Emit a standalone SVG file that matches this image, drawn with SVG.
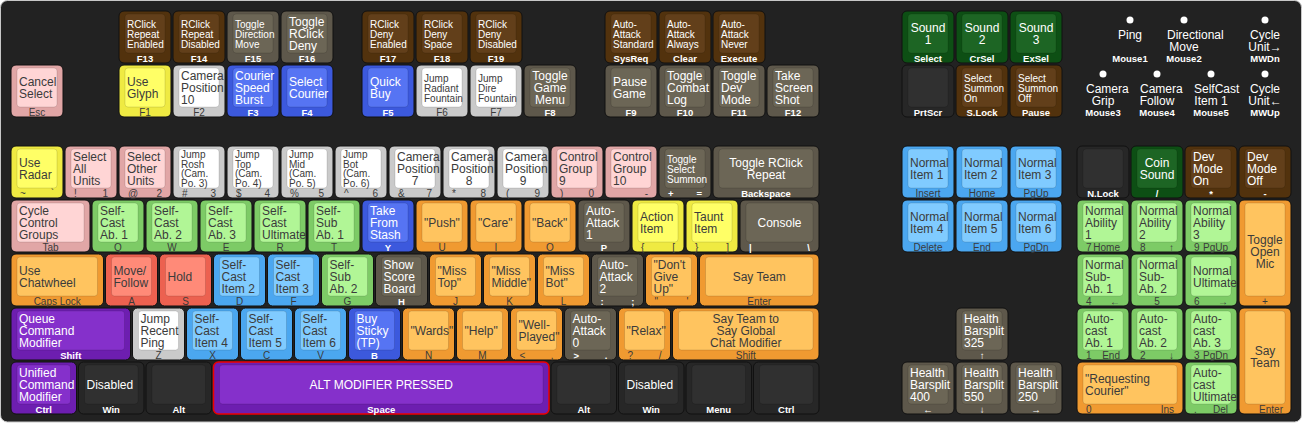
<svg xmlns="http://www.w3.org/2000/svg" width="1303" height="425" viewBox="0 0 1303 425">
<style>
text{font-family:"Liberation Sans",Arial,Helvetica,sans-serif;fill:#3b3b3b}
.m{font-size:12px}
.s{font-size:10px}
.g{font-size:10px}
.c{text-anchor:middle}
.e{text-anchor:end}
.o{stroke:#111;stroke-width:1}
.i{stroke:#000;stroke-opacity:.12;stroke-width:1}
.c-br text,.c-gb text,.c-bl text,.c-pu text,.c-dk text,.c-dg text,.ms text{fill:#fff}
.c-br .g,.c-gb .g,.c-bl .g,.c-pu .g,.c-dk .g,.c-dg .g,.ms .g{font-weight:bold;font-size:9.5px}
.ms circle{fill:#fff}
.c-br .o{fill:#52320d}.c-br .i{fill:#623f1a}
.c-gb .o{fill:#5e584b}.c-gb .i{fill:#6c6656}
.c-pk .o{fill:#e1a6a6}.c-pk .i{fill:#ffd5d5}
.c-ye .o{fill:#efea42}.c-ye .i{fill:#ffff66}
.c-wh .o{fill:#cacaca}.c-wh .i{fill:#ffffff}
.c-bl .o{fill:#3c59dd}.c-bl .i{fill:#5674f3}
.c-lb .o{fill:#4ba7f0}.c-lb .i{fill:#80cbff}
.c-gr .o{fill:#7dcb66}.c-gr .i{fill:#b1f696}
.c-or .o{fill:#f09a31}.c-or .i{fill:#ffc45f}
.c-rd .o{fill:#ec6150}.c-rd .i{fill:#ff8a78}
.c-pu .o{fill:#6d1eb0}.c-pu .i{fill:#8530cb}
.c-dk .o{fill:#272727}.c-dk .i{fill:#303030}
.c-dg .o{fill:#0d4f14}.c-dg .i{fill:#1d6524}
.space .o{stroke:#e00;stroke-width:1.5}
</style>
<rect x="0" y="0" width="1303" height="425" fill="#ffffff"/>
<rect x="0.5" y="0.5" width="1301" height="421.5" rx="7" fill="#222222" stroke="#c8c8c8"/>

<!-- Top function row (F13..) -->
<g id="k-f13" class="c-br"><rect class="o" x="119" y="11" width="52" height="52" rx="5"/><rect class="i" x="125" y="14" width="40" height="39" rx="3"/><text class="s"><tspan x="127" y="27.6">RClick</tspan><tspan x="127" y="37.6">Repeat</tspan><tspan x="127" y="47.6">Enabled</tspan></text><text class="g c" x="145" y="61.5">F13</text></g>
<g id="k-f14" class="c-br"><rect class="o" x="173" y="11" width="52" height="52" rx="5"/><rect class="i" x="179" y="14" width="40" height="39" rx="3"/><text class="s"><tspan x="181" y="27.6">RClick</tspan><tspan x="181" y="37.6">Repeat</tspan><tspan x="181" y="47.6">Disabled</tspan></text><text class="g c" x="199" y="61.5">F14</text></g>
<g id="k-f15" class="c-gb"><rect class="o" x="227" y="11" width="52" height="52" rx="5"/><rect class="i" x="233" y="14" width="40" height="39" rx="3"/><text class="s"><tspan x="235" y="27.6">Toggle</tspan><tspan x="235" y="37.6">Direction</tspan><tspan x="235" y="47.6">Move</tspan></text><text class="g c" x="253" y="61.5">F15</text></g>
<g id="k-f16" class="c-gb"><rect class="o" x="281" y="11" width="52" height="52" rx="5"/><rect class="i" x="287" y="14" width="40" height="39" rx="3"/><text class="m"><tspan x="289" y="26.3">Toggle</tspan><tspan x="289" y="38.3">RClick</tspan><tspan x="289" y="50.3">Deny</tspan></text><text class="g c" x="307" y="61.5">F16</text></g>
<g id="k-f17" class="c-br"><rect class="o" x="362" y="11" width="52" height="52" rx="5"/><rect class="i" x="368" y="14" width="40" height="39" rx="3"/><text class="s"><tspan x="370" y="27.6">RClick</tspan><tspan x="370" y="37.6">Deny</tspan><tspan x="370" y="47.6">Enabled</tspan></text><text class="g c" x="388" y="61.5">F17</text></g>
<g id="k-f18" class="c-br"><rect class="o" x="416" y="11" width="52" height="52" rx="5"/><rect class="i" x="422" y="14" width="40" height="39" rx="3"/><text class="s"><tspan x="424" y="27.6">RClick</tspan><tspan x="424" y="37.6">Deny</tspan><tspan x="424" y="47.6">Space</tspan></text><text class="g c" x="442" y="61.5">F18</text></g>
<g id="k-f19" class="c-br"><rect class="o" x="470" y="11" width="52" height="52" rx="5"/><rect class="i" x="476" y="14" width="40" height="39" rx="3"/><text class="s"><tspan x="478" y="27.6">RClick</tspan><tspan x="478" y="37.6">Deny</tspan><tspan x="478" y="47.6">Disabled</tspan></text><text class="g c" x="496" y="61.5">F19</text></g>
<g id="k-sysreq" class="c-br"><rect class="o" x="605" y="11" width="52" height="52" rx="5"/><rect class="i" x="611" y="14" width="40" height="39" rx="3"/><text class="s"><tspan x="613" y="27.6">Auto-</tspan><tspan x="613" y="37.6">Attack</tspan><tspan x="613" y="47.6">Standard</tspan></text><text class="g c" x="631" y="61.5">SysReq</text></g>
<g id="k-clear" class="c-br"><rect class="o" x="659" y="11" width="52" height="52" rx="5"/><rect class="i" x="665" y="14" width="40" height="39" rx="3"/><text class="s"><tspan x="667" y="27.6">Auto-</tspan><tspan x="667" y="37.6">Attack</tspan><tspan x="667" y="47.6">Always</tspan></text><text class="g c" x="685" y="61.5">Clear</text></g>
<g id="k-execute" class="c-br"><rect class="o" x="713" y="11" width="52" height="52" rx="5"/><rect class="i" x="719" y="14" width="40" height="39" rx="3"/><text class="s"><tspan x="721" y="27.6">Auto-</tspan><tspan x="721" y="37.6">Attack</tspan><tspan x="721" y="47.6">Never</tspan></text><text class="g c" x="739" y="61.5">Execute</text></g>
<g id="k-select" class="c-dg"><rect class="o" x="902" y="11" width="52" height="52" rx="5"/><rect class="i" x="908" y="14" width="40" height="39" rx="3"/><text class="m c"><tspan x="928" y="32.3">Sound</tspan><tspan x="928" y="44.3">1</tspan></text><text class="g c" x="928" y="61.5">Select</text></g>
<g id="k-crsel" class="c-dg"><rect class="o" x="956" y="11" width="52" height="52" rx="5"/><rect class="i" x="962" y="14" width="40" height="39" rx="3"/><text class="m c"><tspan x="982" y="32.3">Sound</tspan><tspan x="982" y="44.3">2</tspan></text><text class="g c" x="982" y="61.5">CrSel</text></g>
<g id="k-exsel" class="c-dg"><rect class="o" x="1010" y="11" width="52" height="52" rx="5"/><rect class="i" x="1016" y="14" width="40" height="39" rx="3"/><text class="m c"><tspan x="1036" y="32.3">Sound</tspan><tspan x="1036" y="44.3">3</tspan></text><text class="g c" x="1036" y="61.5">ExSel</text></g>

<!-- F row -->
<g id="k-esc" class="c-pk"><rect class="o" x="11" y="65" width="52" height="52" rx="5"/><rect class="i" x="17" y="68" width="40" height="39" rx="3"/><text class="m"><tspan x="19" y="86.3">Cancel</tspan><tspan x="19" y="98.3">Select</tspan></text><text class="g c" x="37" y="115.5">Esc</text></g>
<g id="k-f1" class="c-ye"><rect class="o" x="119" y="65" width="52" height="52" rx="5"/><rect class="i" x="125" y="68" width="40" height="39" rx="3"/><text class="m"><tspan x="127" y="86.3">Use</tspan><tspan x="127" y="98.3">Glyph</tspan></text><text class="g c" x="145" y="115.5">F1</text></g>
<g id="k-f2" class="c-wh"><rect class="o" x="173" y="65" width="52" height="52" rx="5"/><rect class="i" x="179" y="68" width="40" height="39" rx="3"/><text class="m"><tspan x="181" y="80.3">Camera</tspan><tspan x="181" y="92.3">Position</tspan><tspan x="181" y="104.3">10</tspan></text><text class="g c" x="199" y="115.5">F2</text></g>
<g id="k-f3" class="c-bl"><rect class="o" x="227" y="65" width="52" height="52" rx="5"/><rect class="i" x="233" y="68" width="40" height="39" rx="3"/><text class="m"><tspan x="235" y="80.3">Courier</tspan><tspan x="235" y="92.3">Speed</tspan><tspan x="235" y="104.3">Burst</tspan></text><text class="g c" x="253" y="115.5">F3</text></g>
<g id="k-f4" class="c-bl"><rect class="o" x="281" y="65" width="52" height="52" rx="5"/><rect class="i" x="287" y="68" width="40" height="39" rx="3"/><text class="m"><tspan x="289" y="86.3">Select</tspan><tspan x="289" y="98.3">Courier</tspan></text><text class="g c" x="307" y="115.5">F4</text></g>
<g id="k-f5" class="c-bl"><rect class="o" x="362" y="65" width="52" height="52" rx="5"/><rect class="i" x="368" y="68" width="40" height="39" rx="3"/><text class="m"><tspan x="370" y="86.3">Quick</tspan><tspan x="370" y="98.3">Buy</tspan></text><text class="g c" x="388" y="115.5">F5</text></g>
<g id="k-f6" class="c-wh"><rect class="o" x="416" y="65" width="52" height="52" rx="5"/><rect class="i" x="422" y="68" width="40" height="39" rx="3"/><text class="s"><tspan x="424" y="81.6">Jump</tspan><tspan x="424" y="91.6">Radiant</tspan><tspan x="424" y="101.6">Fountain</tspan></text><text class="g c" x="442" y="115.5">F6</text></g>
<g id="k-f7" class="c-wh"><rect class="o" x="470" y="65" width="52" height="52" rx="5"/><rect class="i" x="476" y="68" width="40" height="39" rx="3"/><text class="s"><tspan x="478" y="81.6">Jump</tspan><tspan x="478" y="91.6">Dire</tspan><tspan x="478" y="101.6">Fountain</tspan></text><text class="g c" x="496" y="115.5">F7</text></g>
<g id="k-f8" class="c-gb"><rect class="o" x="524" y="65" width="52" height="52" rx="5"/><rect class="i" x="530" y="68" width="40" height="39" rx="3"/><text class="m c"><tspan x="550" y="80.3">Toggle</tspan><tspan x="550" y="92.3">Game</tspan><tspan x="550" y="104.3">Menu</tspan></text><text class="g c" x="550" y="115.5">F8</text></g>
<g id="k-f9" class="c-gb"><rect class="o" x="605" y="65" width="52" height="52" rx="5"/><rect class="i" x="611" y="68" width="40" height="39" rx="3"/><text class="m"><tspan x="613" y="86.3">Pause</tspan><tspan x="613" y="98.3">Game</tspan></text><text class="g c" x="631" y="115.5">F9</text></g>
<g id="k-f10" class="c-gb"><rect class="o" x="659" y="65" width="52" height="52" rx="5"/><rect class="i" x="665" y="68" width="40" height="39" rx="3"/><text class="m"><tspan x="667" y="80.3">Toggle</tspan><tspan x="667" y="92.3">Combat</tspan><tspan x="667" y="104.3">Log</tspan></text><text class="g c" x="685" y="115.5">F10</text></g>
<g id="k-f11" class="c-gb"><rect class="o" x="713" y="65" width="52" height="52" rx="5"/><rect class="i" x="719" y="68" width="40" height="39" rx="3"/><text class="m"><tspan x="721" y="80.3">Toggle</tspan><tspan x="721" y="92.3">Dev</tspan><tspan x="721" y="104.3">Mode</tspan></text><text class="g c" x="739" y="115.5">F11</text></g>
<g id="k-f12" class="c-gb"><rect class="o" x="767" y="65" width="52" height="52" rx="5"/><rect class="i" x="773" y="68" width="40" height="39" rx="3"/><text class="m"><tspan x="775" y="80.3">Take</tspan><tspan x="775" y="92.3">Screen</tspan><tspan x="775" y="104.3">Shot</tspan></text><text class="g c" x="793" y="115.5">F12</text></g>
<g id="k-prtscr" class="c-dk"><rect class="o" x="902" y="65" width="52" height="52" rx="5"/><rect class="i" x="908" y="68" width="40" height="39" rx="3"/><text class="g c" x="928" y="115.5">PrtScr</text></g>
<g id="k-slock" class="c-br"><rect class="o" x="956" y="65" width="52" height="52" rx="5"/><rect class="i" x="962" y="68" width="40" height="39" rx="3"/><text class="s"><tspan x="964" y="81.6">Select</tspan><tspan x="964" y="91.6">Summon</tspan><tspan x="964" y="101.6">On</tspan></text><text class="g c" x="982" y="115.5">S.Lock</text></g>
<g id="k-pause" class="c-br"><rect class="o" x="1010" y="65" width="52" height="52" rx="5"/><rect class="i" x="1016" y="68" width="40" height="39" rx="3"/><text class="s"><tspan x="1018" y="81.6">Select</tspan><tspan x="1018" y="91.6">Summon</tspan><tspan x="1018" y="101.6">Off</tspan></text><text class="g c" x="1036" y="115.5">Pause</text></g>

<!-- Mouse -->
<g id="mouse" class="ms">
<g id="m-ping"><circle cx="1130" cy="20" r="3.5"/><text class="m c" x="1130" y="38.5">Ping</text><text class="g c" x="1130" y="62.3">Mouse1</text></g>
<g id="m-dirmove"><circle cx="1184" cy="20" r="3.5"/><text class="m"><tspan x="1167" y="38.5">Directional</tspan></text><text class="m c" x="1184" y="50.5">Move</text><text class="g c" x="1184" y="62.3">Mouse2</text></g>
<g id="m-cycledn"><circle cx="1265" cy="20" r="3.5"/><text class="m c"><tspan x="1265" y="38.5">Cycle</tspan><tspan x="1265" y="50.5">Unit→</tspan></text><text class="g c" x="1265" y="62.3">MWDn</text></g>
<g id="m-grip"><circle cx="1103" cy="74" r="3.5"/><text class="m" x="1086" y="92.5">Camera</text><text class="m c" x="1103" y="104.5">Grip</text><text class="g c" x="1103" y="116.3">Mouse3</text></g>
<g id="m-follow"><circle cx="1157" cy="74" r="3.5"/><text class="m" x="1140" y="92.5">Camera</text><text class="m c" x="1157" y="104.5">Follow</text><text class="g c" x="1157" y="116.3">Mouse4</text></g>
<g id="m-selfcast"><circle cx="1211" cy="74" r="3.5"/><text class="m" x="1194" y="92.5">SelfCast</text><text class="m c" x="1211" y="104.5">Item 1</text><text class="g c" x="1211" y="116.3">Mouse5</text></g>
<g id="m-cycleup"><circle cx="1265" cy="74" r="3.5"/><text class="m c"><tspan x="1265" y="92.5">Cycle</tspan><tspan x="1265" y="104.5">Unit←</tspan></text><text class="g c" x="1265" y="116.3">MWUp</text></g>
</g>

<!-- Number row -->
<g id="k-grave" class="c-ye"><rect class="o" x="11" y="146" width="52" height="52" rx="5"/><rect class="i" x="17" y="149" width="40" height="39" rx="3"/><text class="m"><tspan x="19" y="167.3">Use</tspan><tspan x="19" y="179.3">Radar</tspan></text><text class="g" x="20" y="196.5">~</text><text class="g e" x="54" y="196.5">`</text></g>
<g id="k-1" class="c-pk"><rect class="o" x="65" y="146" width="52" height="52" rx="5"/><rect class="i" x="71" y="149" width="40" height="39" rx="3"/><text class="m"><tspan x="73" y="161.3">Select</tspan><tspan x="73" y="173.3">All</tspan><tspan x="73" y="185.3">Units</tspan></text><text class="g" x="74" y="196.5">!</text><text class="g e" x="108" y="196.5">1</text></g>
<g id="k-2" class="c-pk"><rect class="o" x="119" y="146" width="52" height="52" rx="5"/><rect class="i" x="125" y="149" width="40" height="39" rx="3"/><text class="m"><tspan x="127" y="161.3">Select</tspan><tspan x="127" y="173.3">Other</tspan><tspan x="127" y="185.3">Units</tspan></text><text class="g" x="128" y="196.5">@</text><text class="g e" x="162" y="196.5">2</text></g>
<g id="k-3" class="c-wh"><rect class="o" x="173" y="146" width="52" height="52" rx="5"/><rect class="i" x="179" y="149" width="40" height="39" rx="3"/><text class="s"><tspan x="181" y="158">Jump</tspan><tspan x="181" y="167.7">Rosh</tspan><tspan x="181" y="177.4">(Cam.</tspan><tspan x="181" y="187.1">Po. 3)</tspan></text><text class="g" x="182" y="197">#</text><text class="g e" x="216" y="197">3</text></g>
<g id="k-4" class="c-wh"><rect class="o" x="227" y="146" width="52" height="52" rx="5"/><rect class="i" x="233" y="149" width="40" height="39" rx="3"/><text class="s"><tspan x="235" y="158">Jump</tspan><tspan x="235" y="167.7">Top</tspan><tspan x="235" y="177.4">(Cam.</tspan><tspan x="235" y="187.1">Po. 4)</tspan></text><text class="g" x="236" y="197">$</text><text class="g e" x="270" y="197">4</text></g>
<g id="k-5" class="c-wh"><rect class="o" x="281" y="146" width="52" height="52" rx="5"/><rect class="i" x="287" y="149" width="40" height="39" rx="3"/><text class="s"><tspan x="289" y="158">Jump</tspan><tspan x="289" y="167.7">Mid</tspan><tspan x="289" y="177.4">(Cam.</tspan><tspan x="289" y="187.1">Po. 5)</tspan></text><text class="g" x="290" y="197">%</text><text class="g e" x="324" y="197">5</text></g>
<g id="k-6" class="c-wh"><rect class="o" x="335" y="146" width="52" height="52" rx="5"/><rect class="i" x="341" y="149" width="40" height="39" rx="3"/><text class="s"><tspan x="343" y="158">Jump</tspan><tspan x="343" y="167.7">Bot</tspan><tspan x="343" y="177.4">(Cam.</tspan><tspan x="343" y="187.1">Po. 6)</tspan></text><text class="g" x="344" y="197">^</text><text class="g e" x="378" y="197">6</text></g>
<g id="k-7" class="c-wh"><rect class="o" x="389" y="146" width="52" height="52" rx="5"/><rect class="i" x="395" y="149" width="40" height="39" rx="3"/><text class="m"><tspan x="397" y="161.3">Camera</tspan><tspan x="397" y="173.3">Position</tspan></text><text class="m c" x="415" y="185.3">7</text><text class="g" x="398" y="196.5">&amp;</text><text class="g e" x="432" y="196.5">7</text></g>
<g id="k-8" class="c-wh"><rect class="o" x="443" y="146" width="52" height="52" rx="5"/><rect class="i" x="449" y="149" width="40" height="39" rx="3"/><text class="m"><tspan x="451" y="161.3">Camera</tspan><tspan x="451" y="173.3">Position</tspan></text><text class="m c" x="469" y="185.3">8</text><text class="g" x="452" y="196.5">*</text><text class="g e" x="486" y="196.5">8</text></g>
<g id="k-9" class="c-wh"><rect class="o" x="497" y="146" width="52" height="52" rx="5"/><rect class="i" x="503" y="149" width="40" height="39" rx="3"/><text class="m"><tspan x="505" y="161.3">Camera</tspan><tspan x="505" y="173.3">Position</tspan></text><text class="m c" x="523" y="185.3">9</text><text class="g" x="506" y="196.5">(</text><text class="g e" x="540" y="196.5">9</text></g>
<g id="k-0" class="c-pk"><rect class="o" x="551" y="146" width="52" height="52" rx="5"/><rect class="i" x="557" y="149" width="40" height="39" rx="3"/><text class="m"><tspan x="559" y="161.3">Control</tspan><tspan x="559" y="173.3">Group</tspan><tspan x="559" y="185.3">9</tspan></text><text class="g" x="560" y="196.5">)</text><text class="g e" x="594" y="196.5">0</text></g>
<g id="k-minus" class="c-pk"><rect class="o" x="605" y="146" width="52" height="52" rx="5"/><rect class="i" x="611" y="149" width="40" height="39" rx="3"/><text class="m"><tspan x="613" y="161.3">Control</tspan><tspan x="613" y="173.3">Group</tspan><tspan x="613" y="185.3">10</tspan></text><text class="g e" x="648" y="196.5">-</text></g>
<g id="k-equal" class="c-gb"><rect class="o" x="659" y="146" width="52" height="52" rx="5"/><rect class="i" x="665" y="149" width="40" height="39" rx="3"/><text class="s"><tspan x="667" y="162.6">Toggle</tspan><tspan x="667" y="172.6">Select</tspan><tspan x="667" y="182.6">Summon</tspan></text><text class="g" x="668" y="196.5">+</text><text class="g e" x="702" y="196.5">=</text></g>
<g id="k-backspace" class="c-gb"><rect class="o" x="713" y="146" width="106" height="52" rx="5"/><rect class="i" x="719" y="149" width="94" height="39" rx="3"/><text class="m c"><tspan x="766" y="167.3">Toggle RClick</tspan><tspan x="766" y="179.3">Repeat</tspan></text><text class="g c" x="766" y="196.5">Backspace</text></g>
<g id="k-insert" class="c-lb"><rect class="o" x="902" y="146" width="52" height="52" rx="5"/><rect class="i" x="908" y="149" width="40" height="39" rx="3"/><text class="m"><tspan x="910" y="167.3">Normal</tspan><tspan x="910" y="179.3">Item 1</tspan></text><text class="g c" x="928" y="196.5">Insert</text></g>
<g id="k-home" class="c-lb"><rect class="o" x="956" y="146" width="52" height="52" rx="5"/><rect class="i" x="962" y="149" width="40" height="39" rx="3"/><text class="m"><tspan x="964" y="167.3">Normal</tspan><tspan x="964" y="179.3">Item 2</tspan></text><text class="g c" x="982" y="196.5">Home</text></g>
<g id="k-pgup" class="c-lb"><rect class="o" x="1010" y="146" width="52" height="52" rx="5"/><rect class="i" x="1016" y="149" width="40" height="39" rx="3"/><text class="m"><tspan x="1018" y="167.3">Normal</tspan><tspan x="1018" y="179.3">Item 3</tspan></text><text class="g c" x="1036" y="196.5">PgUp</text></g>
<g id="k-numlock" class="c-dk"><rect class="o" x="1077" y="146" width="52" height="52" rx="5"/><rect class="i" x="1083" y="149" width="40" height="39" rx="3"/><text class="g c" x="1103" y="196.5">N.Lock</text></g>
<g id="k-numdiv" class="c-dg"><rect class="o" x="1131" y="146" width="52" height="52" rx="5"/><rect class="i" x="1137" y="149" width="40" height="39" rx="3"/><text class="m c"><tspan x="1157" y="167.3">Coin</tspan><tspan x="1157" y="179.3">Sound</tspan></text><text class="g c" x="1157" y="196.5">/</text></g>
<g id="k-nummul" class="c-br"><rect class="o" x="1185" y="146" width="52" height="52" rx="5"/><rect class="i" x="1191" y="149" width="40" height="39" rx="3"/><text class="m"><tspan x="1193" y="161.3">Dev</tspan><tspan x="1193" y="173.3">Mode</tspan><tspan x="1193" y="185.3">On</tspan></text><text class="g c" x="1211" y="196.5">*</text></g>
<g id="k-numsub" class="c-br"><rect class="o" x="1239" y="146" width="52" height="52" rx="5"/><rect class="i" x="1245" y="149" width="40" height="39" rx="3"/><text class="m"><tspan x="1247" y="161.3">Dev</tspan><tspan x="1247" y="173.3">Mode</tspan><tspan x="1247" y="185.3">Off</tspan></text><text class="g c" x="1265" y="196.5">-</text></g>

<!-- Tab row -->
<g id="k-tab" class="c-pk"><rect class="o" x="11" y="200" width="79" height="52" rx="5"/><rect class="i" x="17" y="203" width="67" height="39" rx="3"/><text class="m"><tspan x="19" y="215.3">Cycle</tspan><tspan x="19" y="227.3">Control</tspan><tspan x="19" y="239.3">Groups</tspan></text><text class="g c" x="50.5" y="250.5">Tab</text></g>
<g id="k-q" class="c-gr"><rect class="o" x="92" y="200" width="52" height="52" rx="5"/><rect class="i" x="98" y="203" width="40" height="39" rx="3"/><text class="m"><tspan x="100" y="215.3">Self-</tspan><tspan x="100" y="227.3">Cast</tspan><tspan x="100" y="239.3">Ab. 1</tspan></text><text class="g c" x="118" y="250.5">Q</text></g>
<g id="k-w" class="c-gr"><rect class="o" x="146" y="200" width="52" height="52" rx="5"/><rect class="i" x="152" y="203" width="40" height="39" rx="3"/><text class="m"><tspan x="154" y="215.3">Self-</tspan><tspan x="154" y="227.3">Cast</tspan><tspan x="154" y="239.3">Ab. 2</tspan></text><text class="g c" x="172" y="250.5">W</text></g>
<g id="k-e" class="c-gr"><rect class="o" x="200" y="200" width="52" height="52" rx="5"/><rect class="i" x="206" y="203" width="40" height="39" rx="3"/><text class="m"><tspan x="208" y="215.3">Self-</tspan><tspan x="208" y="227.3">Cast</tspan><tspan x="208" y="239.3">Ab. 3</tspan></text><text class="g c" x="226" y="250.5">E</text></g>
<g id="k-r" class="c-gr"><rect class="o" x="254" y="200" width="52" height="52" rx="5"/><rect class="i" x="260" y="203" width="40" height="39" rx="3"/><text class="m"><tspan x="262" y="215.3">Self-</tspan><tspan x="262" y="227.3">Cast</tspan><tspan x="262" y="239.3">Ultimate</tspan></text><text class="g c" x="280" y="250.5">R</text></g>
<g id="k-t" class="c-gr"><rect class="o" x="308" y="200" width="52" height="52" rx="5"/><rect class="i" x="314" y="203" width="40" height="39" rx="3"/><text class="m"><tspan x="316" y="215.3">Self-</tspan><tspan x="316" y="227.3">Sub</tspan><tspan x="316" y="239.3">Ab. 1</tspan></text><text class="g c" x="334" y="250.5">T</text></g>
<g id="k-y" class="c-bl"><rect class="o" x="362" y="200" width="52" height="52" rx="5"/><rect class="i" x="368" y="203" width="40" height="39" rx="3"/><text class="m"><tspan x="370" y="215.3">Take</tspan><tspan x="370" y="227.3">From</tspan><tspan x="370" y="239.3">Stash</tspan></text><text class="g c" x="388" y="250.5">Y</text></g>
<g id="k-u" class="c-or"><rect class="o" x="416" y="200" width="52" height="52" rx="5"/><rect class="i" x="422" y="203" width="40" height="39" rx="3"/><text class="m" x="424" y="227.3">"Push"</text><text class="g c" x="442" y="250.5">U</text></g>
<g id="k-i" class="c-or"><rect class="o" x="470" y="200" width="52" height="52" rx="5"/><rect class="i" x="476" y="203" width="40" height="39" rx="3"/><text class="m" x="478" y="227.3">"Care"</text><text class="g c" x="496" y="250.5">I</text></g>
<g id="k-o" class="c-or"><rect class="o" x="524" y="200" width="52" height="52" rx="5"/><rect class="i" x="530" y="203" width="40" height="39" rx="3"/><text class="m" x="532" y="227.3">"Back"</text><text class="g c" x="550" y="250.5">O</text></g>
<g id="k-p" class="c-gb"><rect class="o" x="578" y="200" width="52" height="52" rx="5"/><rect class="i" x="584" y="203" width="40" height="39" rx="3"/><text class="m"><tspan x="586" y="215.3">Auto-</tspan><tspan x="586" y="227.3">Attack</tspan><tspan x="586" y="239.3">1</tspan></text><text class="g c" x="604" y="250.5">P</text></g>
<g id="k-lbracket" class="c-ye"><rect class="o" x="632" y="200" width="52" height="52" rx="5"/><rect class="i" x="638" y="203" width="40" height="39" rx="3"/><text class="m"><tspan x="640" y="221.3">Action</tspan><tspan x="640" y="233.3">Item</tspan></text><text class="g" x="641" y="250.5">{</text><text class="g e" x="675" y="250.5">[</text></g>
<g id="k-rbracket" class="c-ye"><rect class="o" x="686" y="200" width="52" height="52" rx="5"/><rect class="i" x="692" y="203" width="40" height="39" rx="3"/><text class="m"><tspan x="694" y="221.3">Taunt</tspan><tspan x="694" y="233.3">Item</tspan></text><text class="g" x="695" y="250.5">}</text><text class="g e" x="729" y="250.5">]</text></g>
<g id="k-backslash" class="c-gb"><rect class="o" x="740" y="200" width="79" height="52" rx="5"/><rect class="i" x="746" y="203" width="67" height="39" rx="3"/><text class="m c" x="779.5" y="227.3">Console</text><text class="g" x="749" y="250.5">|</text><text class="g e" x="810" y="250.5">\</text></g>
<g id="k-delete" class="c-lb"><rect class="o" x="902" y="200" width="52" height="52" rx="5"/><rect class="i" x="908" y="203" width="40" height="39" rx="3"/><text class="m"><tspan x="910" y="221.3">Normal</tspan><tspan x="910" y="233.3">Item 4</tspan></text><text class="g c" x="928" y="250.5">Delete</text></g>
<g id="k-end" class="c-lb"><rect class="o" x="956" y="200" width="52" height="52" rx="5"/><rect class="i" x="962" y="203" width="40" height="39" rx="3"/><text class="m"><tspan x="964" y="221.3">Normal</tspan><tspan x="964" y="233.3">Item 5</tspan></text><text class="g c" x="982" y="250.5">End</text></g>
<g id="k-pgdn" class="c-lb"><rect class="o" x="1010" y="200" width="52" height="52" rx="5"/><rect class="i" x="1016" y="203" width="40" height="39" rx="3"/><text class="m"><tspan x="1018" y="221.3">Normal</tspan><tspan x="1018" y="233.3">Item 6</tspan></text><text class="g c" x="1036" y="250.5">PgDn</text></g>
<g id="k-num7" class="c-gr"><rect class="o" x="1077" y="200" width="52" height="52" rx="5"/><rect class="i" x="1083" y="203" width="40" height="39" rx="3"/><text class="m"><tspan x="1085" y="215.3">Normal</tspan><tspan x="1085" y="227.3">Ability</tspan><tspan x="1085" y="239.3">1</tspan></text><text class="g" x="1086" y="250.5">7</text><text class="g e" x="1120" y="250.5">Home</text></g>
<g id="k-num8" class="c-gr"><rect class="o" x="1131" y="200" width="52" height="52" rx="5"/><rect class="i" x="1137" y="203" width="40" height="39" rx="3"/><text class="m"><tspan x="1139" y="215.3">Normal</tspan><tspan x="1139" y="227.3">Ability</tspan><tspan x="1139" y="239.3">2</tspan></text><text class="g" x="1140" y="250.5">8</text><text class="g e" x="1174" y="250.5">↑</text></g>
<g id="k-num9" class="c-gr"><rect class="o" x="1185" y="200" width="52" height="52" rx="5"/><rect class="i" x="1191" y="203" width="40" height="39" rx="3"/><text class="m"><tspan x="1193" y="215.3">Normal</tspan><tspan x="1193" y="227.3">Ability</tspan><tspan x="1193" y="239.3">3</tspan></text><text class="g" x="1194" y="250.5">9</text><text class="g e" x="1228" y="250.5">PgUp</text></g>
<g id="k-numadd" class="c-or"><rect class="o" x="1239" y="200" width="52" height="106" rx="5"/><rect class="i" x="1245" y="203" width="40" height="93" rx="3"/><text class="m c"><tspan x="1265" y="243.5">Toggle</tspan><tspan x="1265" y="255.5">Open</tspan><tspan x="1265" y="267.5">Mic</tspan></text><text class="g c" x="1265" y="304.5">+</text></g>

<!-- Caps row -->
<g id="k-caps" class="c-or"><rect class="o" x="11" y="254" width="92.5" height="52" rx="5"/><rect class="i" x="17" y="257" width="80.5" height="39" rx="3"/><text class="m"><tspan x="19" y="275.3">Use</tspan><tspan x="19" y="287.3">Chatwheel</tspan></text><text class="g c" x="57.25" y="304.5">Caps Lock</text></g>
<g id="k-a" class="c-rd"><rect class="o" x="105.5" y="254" width="52" height="52" rx="5"/><rect class="i" x="111.5" y="257" width="40" height="39" rx="3"/><text class="m"><tspan x="113.5" y="275.3">Move/</tspan><tspan x="113.5" y="287.3">Follow</tspan></text><text class="g c" x="131.5" y="304.5">A</text></g>
<g id="k-s" class="c-rd"><rect class="o" x="159.5" y="254" width="52" height="52" rx="5"/><rect class="i" x="165.5" y="257" width="40" height="39" rx="3"/><text class="m" x="167.5" y="281.3">Hold</text><text class="g c" x="185.5" y="304.5">S</text></g>
<g id="k-d" class="c-lb"><rect class="o" x="213.5" y="254" width="52" height="52" rx="5"/><rect class="i" x="219.5" y="257" width="40" height="39" rx="3"/><text class="m"><tspan x="221.5" y="269.3">Self-</tspan><tspan x="221.5" y="281.3">Cast</tspan><tspan x="221.5" y="293.3">Item 2</tspan></text><text class="g c" x="239.5" y="304.5">D</text></g>
<g id="k-f" class="c-lb"><rect class="o" x="267.5" y="254" width="52" height="52" rx="5"/><rect class="i" x="273.5" y="257" width="40" height="39" rx="3"/><text class="m"><tspan x="275.5" y="269.3">Self-</tspan><tspan x="275.5" y="281.3">Cast</tspan><tspan x="275.5" y="293.3">Item 3</tspan></text><text class="g c" x="293.5" y="304.5">F</text></g>
<g id="k-g" class="c-gr"><rect class="o" x="321.5" y="254" width="52" height="52" rx="5"/><rect class="i" x="327.5" y="257" width="40" height="39" rx="3"/><text class="m"><tspan x="329.5" y="269.3">Self-</tspan><tspan x="329.5" y="281.3">Sub</tspan><tspan x="329.5" y="293.3">Ab. 2</tspan></text><text class="g c" x="347.5" y="304.5">G</text></g>
<g id="k-h" class="c-gb"><rect class="o" x="375.5" y="254" width="52" height="52" rx="5"/><rect class="i" x="381.5" y="257" width="40" height="39" rx="3"/><text class="m"><tspan x="383.5" y="269.3">Show</tspan><tspan x="383.5" y="281.3">Score</tspan><tspan x="383.5" y="293.3">Board</tspan></text><text class="g c" x="401.5" y="304.5">H</text></g>
<g id="k-j" class="c-or"><rect class="o" x="429.5" y="254" width="52" height="52" rx="5"/><rect class="i" x="435.5" y="257" width="40" height="39" rx="3"/><text class="m"><tspan x="437.5" y="275.3">"Miss</tspan><tspan x="437.5" y="287.3">Top"</tspan></text><text class="g c" x="455.5" y="304.5">J</text></g>
<g id="k-k" class="c-or"><rect class="o" x="483.5" y="254" width="52" height="52" rx="5"/><rect class="i" x="489.5" y="257" width="40" height="39" rx="3"/><text class="m"><tspan x="491.5" y="275.3">"Miss</tspan><tspan x="491.5" y="287.3">Middle"</tspan></text><text class="g c" x="509.5" y="304.5">K</text></g>
<g id="k-l" class="c-or"><rect class="o" x="537.5" y="254" width="52" height="52" rx="5"/><rect class="i" x="543.5" y="257" width="40" height="39" rx="3"/><text class="m"><tspan x="545.5" y="275.3">"Miss</tspan><tspan x="545.5" y="287.3">Bot"</tspan></text><text class="g c" x="563.5" y="304.5">L</text></g>
<g id="k-semicolon" class="c-gb"><rect class="o" x="591.5" y="254" width="52" height="52" rx="5"/><rect class="i" x="597.5" y="257" width="40" height="39" rx="3"/><text class="m"><tspan x="599.5" y="269.3">Auto-</tspan><tspan x="599.5" y="281.3">Attack</tspan><tspan x="599.5" y="293.3">2</tspan></text><text class="g" x="600.5" y="304.5">:</text><text class="g e" x="634.5" y="304.5">;</text></g>
<g id="k-quote" class="c-or"><rect class="o" x="645.5" y="254" width="52" height="52" rx="5"/><rect class="i" x="651.5" y="257" width="40" height="39" rx="3"/><text class="m"><tspan x="653.5" y="269.3">"Don't</tspan><tspan x="653.5" y="281.3">Give</tspan><tspan x="653.5" y="293.3">Up"</tspan></text><text class="g" x="654.5" y="304.5">"</text><text class="g e" x="688.5" y="304.5">'</text></g>
<g id="k-enter" class="c-or"><rect class="o" x="699.5" y="254" width="119.5" height="52" rx="5"/><rect class="i" x="705.5" y="257" width="107.5" height="39" rx="3"/><text class="m c" x="759.25" y="281.3">Say Team</text><text class="g c" x="759.25" y="304.5">Enter</text></g>
<g id="k-num4" class="c-gr"><rect class="o" x="1077" y="254" width="52" height="52" rx="5"/><rect class="i" x="1083" y="257" width="40" height="39" rx="3"/><text class="m"><tspan x="1085" y="269.3">Normal</tspan><tspan x="1085" y="281.3">Sub-</tspan><tspan x="1085" y="293.3">Ab. 1</tspan></text><text class="g" x="1086" y="304.5">4</text><text class="g e" x="1120" y="304.5">←</text></g>
<g id="k-num5" class="c-gr"><rect class="o" x="1131" y="254" width="52" height="52" rx="5"/><rect class="i" x="1137" y="257" width="40" height="39" rx="3"/><text class="m"><tspan x="1139" y="269.3">Normal</tspan><tspan x="1139" y="281.3">Sub-</tspan><tspan x="1139" y="293.3">Ab. 2</tspan></text><text class="g c" x="1157" y="304.5">5</text></g>
<g id="k-num6" class="c-gr"><rect class="o" x="1185" y="254" width="52" height="52" rx="5"/><rect class="i" x="1191" y="257" width="40" height="39" rx="3"/><text class="m"><tspan x="1193" y="275.3">Normal</tspan><tspan x="1193" y="287.3">Ultimate</tspan></text><text class="g" x="1194" y="304.5">6</text><text class="g e" x="1228" y="304.5">→</text></g>

<!-- Shift row -->
<g id="k-lshift" class="c-pu"><rect class="o" x="11" y="308" width="119.5" height="52" rx="5"/><rect class="i" x="17" y="311" width="107.5" height="39" rx="3"/><text class="m"><tspan x="19" y="323.3">Queue</tspan><tspan x="19" y="335.3">Command</tspan><tspan x="19" y="347.3">Modifier</tspan></text><text class="g c" x="70.75" y="358.5">Shift</text></g>
<g id="k-z" class="c-wh"><rect class="o" x="132.5" y="308" width="52" height="52" rx="5"/><rect class="i" x="138.5" y="311" width="40" height="39" rx="3"/><text class="m"><tspan x="140.5" y="323.3">Jump</tspan><tspan x="140.5" y="335.3">Recent</tspan><tspan x="140.5" y="347.3">Ping</tspan></text><text class="g c" x="158.5" y="358.5">Z</text></g>
<g id="k-x" class="c-lb"><rect class="o" x="186.5" y="308" width="52" height="52" rx="5"/><rect class="i" x="192.5" y="311" width="40" height="39" rx="3"/><text class="m"><tspan x="194.5" y="323.3">Self-</tspan><tspan x="194.5" y="335.3">Cast</tspan><tspan x="194.5" y="347.3">Item 4</tspan></text><text class="g c" x="212.5" y="358.5">X</text></g>
<g id="k-c" class="c-lb"><rect class="o" x="240.5" y="308" width="52" height="52" rx="5"/><rect class="i" x="246.5" y="311" width="40" height="39" rx="3"/><text class="m"><tspan x="248.5" y="323.3">Self-</tspan><tspan x="248.5" y="335.3">Cast</tspan><tspan x="248.5" y="347.3">Item 5</tspan></text><text class="g c" x="266.5" y="358.5">C</text></g>
<g id="k-v" class="c-lb"><rect class="o" x="294.5" y="308" width="52" height="52" rx="5"/><rect class="i" x="300.5" y="311" width="40" height="39" rx="3"/><text class="m"><tspan x="302.5" y="323.3">Self-</tspan><tspan x="302.5" y="335.3">Cast</tspan><tspan x="302.5" y="347.3">Item 6</tspan></text><text class="g c" x="320.5" y="358.5">V</text></g>
<g id="k-b" class="c-bl"><rect class="o" x="348.5" y="308" width="52" height="52" rx="5"/><rect class="i" x="354.5" y="311" width="40" height="39" rx="3"/><text class="m"><tspan x="356.5" y="323.3">Buy</tspan><tspan x="356.5" y="335.3">Sticky</tspan><tspan x="356.5" y="347.3">(TP)</tspan></text><text class="g c" x="374.5" y="358.5">B</text></g>
<g id="k-n" class="c-or"><rect class="o" x="402.5" y="308" width="52" height="52" rx="5"/><rect class="i" x="408.5" y="311" width="40" height="39" rx="3"/><text class="m" x="410.5" y="335.3">"Wards"</text><text class="g c" x="428.5" y="358.5">N</text></g>
<g id="k-m" class="c-or"><rect class="o" x="456.5" y="308" width="52" height="52" rx="5"/><rect class="i" x="462.5" y="311" width="40" height="39" rx="3"/><text class="m" x="464.5" y="335.3">"Help"</text><text class="g c" x="482.5" y="358.5">M</text></g>
<g id="k-comma" class="c-or"><rect class="o" x="510.5" y="308" width="52" height="52" rx="5"/><rect class="i" x="516.5" y="311" width="40" height="39" rx="3"/><text class="m"><tspan x="518.5" y="329.3">"Well-</tspan><tspan x="518.5" y="341.3">Played"</tspan></text><text class="g" x="519.5" y="358.5">&lt;</text><text class="g e" x="553.5" y="358.5">,</text></g>
<g id="k-period" class="c-gb"><rect class="o" x="564.5" y="308" width="52" height="52" rx="5"/><rect class="i" x="570.5" y="311" width="40" height="39" rx="3"/><text class="m"><tspan x="572.5" y="323.3">Auto-</tspan><tspan x="572.5" y="335.3">Attack</tspan><tspan x="572.5" y="347.3">0</tspan></text><text class="g" x="573.5" y="358.5">&gt;</text><text class="g e" x="607.5" y="358.5">.</text></g>
<g id="k-slash" class="c-or"><rect class="o" x="618.5" y="308" width="52" height="52" rx="5"/><rect class="i" x="624.5" y="311" width="40" height="39" rx="3"/><text class="m" x="626.5" y="335.3">"Relax"</text><text class="g" x="627.5" y="358.5">?</text><text class="g e" x="661.5" y="358.5">/</text></g>
<g id="k-rshift" class="c-or"><rect class="o" x="672.5" y="308" width="146.5" height="52" rx="5"/><rect class="i" x="678.5" y="311" width="134.5" height="39" rx="3"/><text class="m c"><tspan x="745.75" y="323.3">Say Team to</tspan><tspan x="745.75" y="335.3">Say Global</tspan><tspan x="745.75" y="347.3">Chat Modifier</tspan></text><text class="g c" x="745.75" y="358.5">Shift</text></g>
<g id="k-up" class="c-gb"><rect class="o" x="956" y="308" width="52" height="52" rx="5"/><rect class="i" x="962" y="311" width="40" height="39" rx="3"/><text class="m"><tspan x="964" y="323.3">Health</tspan><tspan x="964" y="335.3">Barsplit</tspan><tspan x="964" y="347.3">325</tspan></text><text class="g c" x="982" y="358.5">↑</text></g>
<g id="k-num1" class="c-gr"><rect class="o" x="1077" y="308" width="52" height="52" rx="5"/><rect class="i" x="1083" y="311" width="40" height="39" rx="3"/><text class="m"><tspan x="1085" y="323.3">Auto-</tspan><tspan x="1085" y="335.3">cast</tspan><tspan x="1085" y="347.3">Ab. 1</tspan></text><text class="g" x="1086" y="358.5">1</text><text class="g e" x="1120" y="358.5">End</text></g>
<g id="k-num2" class="c-gr"><rect class="o" x="1131" y="308" width="52" height="52" rx="5"/><rect class="i" x="1137" y="311" width="40" height="39" rx="3"/><text class="m"><tspan x="1139" y="323.3">Auto-</tspan><tspan x="1139" y="335.3">cast</tspan><tspan x="1139" y="347.3">Ab. 2</tspan></text><text class="g" x="1140" y="358.5">2</text><text class="g e" x="1174" y="358.5">↓</text></g>
<g id="k-num3" class="c-gr"><rect class="o" x="1185" y="308" width="52" height="52" rx="5"/><rect class="i" x="1191" y="311" width="40" height="39" rx="3"/><text class="m"><tspan x="1193" y="323.3">Auto-</tspan><tspan x="1193" y="335.3">cast</tspan><tspan x="1193" y="347.3">Ab. 3</tspan></text><text class="g" x="1194" y="358.5">3</text><text class="g e" x="1228" y="358.5">PgDn</text></g>
<g id="k-numenter" class="c-or"><rect class="o" x="1239" y="308" width="52" height="106" rx="5"/><rect class="i" x="1245" y="311" width="40" height="93" rx="3"/><text class="m c"><tspan x="1265" y="355.3">Say</tspan><tspan x="1265" y="367.3">Team</tspan></text><text class="g e" x="1283" y="412.5">Enter</text></g>

<!-- Bottom row -->
<g id="k-lctrl" class="c-pu"><rect class="o" x="11" y="362" width="65.5" height="52" rx="5"/><rect class="i" x="17" y="365" width="53.5" height="39" rx="3"/><text class="m"><tspan x="19" y="377.3">Unified</tspan><tspan x="19" y="389.3">Command</tspan><tspan x="19" y="401.3">Modifier</tspan></text><text class="g c" x="43.75" y="412.5">Ctrl</text></g>
<g id="k-lwin" class="c-dk"><rect class="o" x="78.5" y="362" width="65.5" height="52" rx="5"/><rect class="i" x="84.5" y="365" width="53.5" height="39" rx="3"/><text class="m" x="86.5" y="389.3">Disabled</text><text class="g c" x="111.25" y="412.5">Win</text></g>
<g id="k-lalt" class="c-dk"><rect class="o" x="146" y="362" width="65.5" height="52" rx="5"/><rect class="i" x="152" y="365" width="53.5" height="39" rx="3"/><text class="g c" x="178.75" y="412.5">Alt</text></g>
<g id="k-space" class="c-pu space"><rect class="o" x="213.5" y="362" width="335.5" height="52" rx="5"/><rect class="i" x="219.5" y="365" width="323.5" height="39" rx="3"/><text class="m c" x="381.25" y="389.3">ALT MODIFIER PRESSED</text><text class="g c" x="381.25" y="412.5">Space</text></g>
<g id="k-ralt" class="c-dk"><rect class="o" x="551" y="362" width="65.5" height="52" rx="5"/><rect class="i" x="557" y="365" width="53.5" height="39" rx="3"/><text class="g c" x="583.75" y="412.5">Alt</text></g>
<g id="k-rwin" class="c-dk"><rect class="o" x="618.5" y="362" width="65.5" height="52" rx="5"/><rect class="i" x="624.5" y="365" width="53.5" height="39" rx="3"/><text class="m" x="626.5" y="389.3">Disabled</text><text class="g c" x="651.25" y="412.5">Win</text></g>
<g id="k-menu" class="c-dk"><rect class="o" x="686" y="362" width="65.5" height="52" rx="5"/><rect class="i" x="692" y="365" width="53.5" height="39" rx="3"/><text class="g c" x="718.75" y="412.5">Menu</text></g>
<g id="k-rctrl" class="c-dk"><rect class="o" x="753.5" y="362" width="65.5" height="52" rx="5"/><rect class="i" x="759.5" y="365" width="53.5" height="39" rx="3"/><text class="g c" x="786.25" y="412.5">Ctrl</text></g>
<g id="k-left" class="c-gb"><rect class="o" x="902" y="362" width="52" height="52" rx="5"/><rect class="i" x="908" y="365" width="40" height="39" rx="3"/><text class="m"><tspan x="910" y="377.3">Health</tspan><tspan x="910" y="389.3">Barsplit</tspan><tspan x="910" y="401.3">400</tspan></text><text class="g c" x="928" y="412.5">←</text></g>
<g id="k-down" class="c-gb"><rect class="o" x="956" y="362" width="52" height="52" rx="5"/><rect class="i" x="962" y="365" width="40" height="39" rx="3"/><text class="m"><tspan x="964" y="377.3">Health</tspan><tspan x="964" y="389.3">Barsplit</tspan><tspan x="964" y="401.3">550</tspan></text><text class="g c" x="982" y="412.5">↓</text></g>
<g id="k-right" class="c-gb"><rect class="o" x="1010" y="362" width="52" height="52" rx="5"/><rect class="i" x="1016" y="365" width="40" height="39" rx="3"/><text class="m"><tspan x="1018" y="377.3">Health</tspan><tspan x="1018" y="389.3">Barsplit</tspan><tspan x="1018" y="401.3">250</tspan></text><text class="g c" x="1036" y="412.5">→</text></g>
<g id="k-num0" class="c-or"><rect class="o" x="1077" y="362" width="106" height="52" rx="5"/><rect class="i" x="1083" y="365" width="94" height="39" rx="3"/><text class="m"><tspan x="1085" y="383.3">"Requesting</tspan><tspan x="1085" y="395.3">Courier"</tspan></text><text class="g" x="1086" y="412.5">0</text><text class="g e" x="1174" y="412.5">Ins</text></g>
<g id="k-numdec" class="c-gr"><rect class="o" x="1185" y="362" width="52" height="52" rx="5"/><rect class="i" x="1191" y="365" width="40" height="39" rx="3"/><text class="m"><tspan x="1193" y="377.3">Auto-</tspan><tspan x="1193" y="389.3">cast</tspan><tspan x="1193" y="401.3">Ultimate</tspan></text><text class="g" x="1194" y="412.5">.</text><text class="g e" x="1228" y="412.5">Del</text></g>
<g id="connectors"/>
</svg>
